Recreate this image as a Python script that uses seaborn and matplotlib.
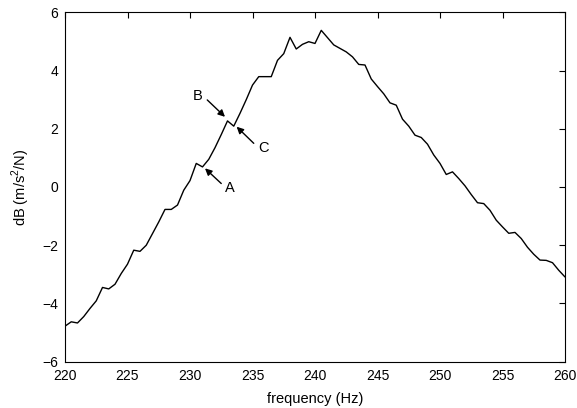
import matplotlib
matplotlib.use("Agg")
import matplotlib.pyplot as plt
import seaborn as sns
import pandas as pd

frequency = [220.0, 220.5, 221.0, 221.5, 222.0, 222.5, 223.0, 223.5, 224.0, 224.5,
             225.0, 225.5, 226.0, 226.5, 227.0, 227.5, 228.0, 228.5, 229.0, 229.5,
             230.0, 230.5, 231.0, 231.5, 232.0, 232.5, 233.0, 233.5, 234.0, 234.5,
             235.0, 235.5, 236.0, 236.5, 237.0, 237.5, 238.0, 238.5, 239.0, 239.5,
             240.0, 240.5, 241.0, 241.5, 242.0, 242.5, 243.0, 243.5, 244.0, 244.5,
             245.0, 245.5, 246.0, 246.5, 247.0, 247.5, 248.0, 248.5, 249.0, 249.5,
             250.0, 250.5, 251.0, 251.5, 252.0, 252.5, 253.0, 253.5, 254.0, 254.5,
             255.0, 255.5, 256.0, 256.5, 257.0, 257.5, 258.0, 258.5, 259.0, 259.5,
             260.0]
db = [-4.78, -4.63, -4.67, -4.45, -4.17, -3.91, -3.45, -3.50, -3.34, -2.97,
      -2.65, -2.17, -2.21, -2.00, -1.60, -1.20, -0.77, -0.77, -0.62, -0.11,
      0.22, 0.81, 0.69, 0.95, 1.35, 1.80, 2.27, 2.09, 2.53, 3.00,
      3.50, 3.79, 3.79, 3.79, 4.35, 4.58, 5.14, 4.74, 4.90, 4.99,
      4.93, 5.38, 5.13, 4.88, 4.76, 4.64, 4.47, 4.21, 4.19, 3.71,
      3.45, 3.20, 2.89, 2.81, 2.33, 2.09, 1.78, 1.70, 1.47, 1.10,
      0.81, 0.43, 0.52, 0.29, 0.04, -0.26, -0.54, -0.57, -0.80, -1.14,
      -1.37, -1.59, -1.56, -1.77, -2.07, -2.31, -2.51, -2.52, -2.60, -2.86,
      -3.09]

x_ticks = [220, 225, 230, 235, 240, 245, 250, 255, 260]
y_ticks = [-6, -4, -2, 0, 2, 4, 6]

annot_labels = ["A", "B", "C"]
annot_text_xy = [(233.2, -0.05), (230.64, 3.12), (235.87, 1.33)]
annot_tail_xy = [(232.5, 0.12), (231.38, 2.99), (235.1, 1.50)]
annot_head_xy = [(231.2, 0.64), (232.8, 2.41), (233.73, 2.07)]

sns.set_theme(style="white")
plt.rcParams['font.family'] = ['Liberation Sans', 'DejaVu Sans']
plt.rcParams['mathtext.fontset'] = 'custom'
plt.rcParams['mathtext.rm'] = 'Liberation Sans'

fig = plt.figure(figsize=(5.77, 4.08), dpi=100)
ax = fig.add_axes([65/577, 1 - 361.7/408, 500/577, (361.7 - 12.3)/408])

df = pd.DataFrame({"frequency": frequency, "dB": db})
sns.lineplot(data=df, x="frequency", y="dB", ax=ax, color="black", linewidth=1.0)

for lab, txy, tail, head in zip(annot_labels, annot_text_xy, annot_tail_xy, annot_head_xy):
    ax.annotate("", xy=head, xytext=tail,
                arrowprops=dict(arrowstyle="-|>", color="black", lw=1.0,
                                mutation_scale=10, shrinkA=0, shrinkB=0))
    ax.text(txy[0], txy[1], lab, ha="center", va="center", fontsize=10.5, color="black")

ax.set_xlim(220, 260)
ax.set_ylim(-6, 6)
ax.set_xticks(x_ticks)
ax.set_yticks(y_ticks)
ax.tick_params(direction="in", length=4, width=0.8, top=True, right=True,
               labelsize=10, colors="black", pad=5)
for s in ax.spines.values():
    s.set_color("black")
    s.set_linewidth(0.8)
ax.set_xlabel("frequency (Hz)", fontsize=10.5, color="black", labelpad=7)
ax.set_ylabel("dB (m/s$^2$/N)", fontsize=10.5, color="black", labelpad=7)
ax.grid(False)

fig.savefig("out.png", dpi=100)
